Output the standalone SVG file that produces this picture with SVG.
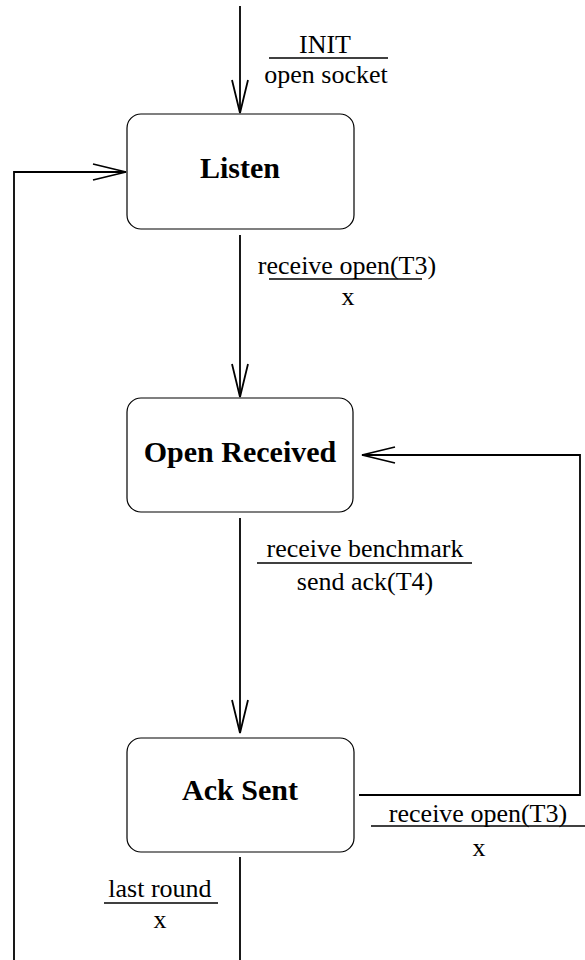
<svg xmlns="http://www.w3.org/2000/svg" width="585" height="960" viewBox="0 0 585 960">
<style>
.box{fill:#fff;stroke:#000;stroke-width:1.2}
.st{font-family:"Liberation Serif","Times New Roman",serif;font-weight:bold;font-size:30px;text-anchor:middle;fill:#000}
.lb{font-family:"Liberation Serif","Times New Roman",serif;font-size:26px;text-anchor:middle;fill:#000}
.ln{stroke:#000;stroke-width:1.8;fill:none}
.ul{stroke:#000;stroke-width:1.6}
</style>
<defs>
<marker id="arr" markerUnits="userSpaceOnUse" markerWidth="36" markerHeight="20" refX="34" refY="9" orient="auto">
<path d="M1,1 L34,9 L1,17" fill="none" stroke="#000" stroke-width="1.8"/>
</marker>
</defs>
<g id="connectors">
<line class="ln" x1="240" y1="6" x2="240" y2="113" marker-end="url(#arr)"/>
<polyline class="ln" points="14,960 14,172 126,172" marker-end="url(#arr)"/>
<line class="ln" x1="240" y1="235" x2="240" y2="397" marker-end="url(#arr)"/>
<line class="ln" x1="240" y1="518" x2="240" y2="733" marker-end="url(#arr)"/>
<polyline class="ln" points="359,795 580,795 580,455 362,455" marker-end="url(#arr)"/>
<line class="ln" x1="240" y1="857" x2="240" y2="960"/>
</g>
<g id="label-init">
<text class="lb" x="325" y="53">INIT</text>
<line class="ul" x1="269" y1="58" x2="388" y2="58"/>
<text class="lb" x="326" y="83">open socket</text>
</g>
<g id="label-recv-open-1">
<text class="lb" x="347" y="274">receive open(T3)</text>
<line class="ul" x1="269" y1="279" x2="422" y2="279"/>
<text class="lb" x="348" y="305">x</text>
</g>
<g id="label-recv-bench">
<text class="lb" x="365" y="557">receive benchmark</text>
<line class="ul" x1="257" y1="563" x2="472" y2="563"/>
<text class="lb" x="365" y="590">send ack(T4)</text>
</g>
<g id="label-recv-open-2">
<text class="lb" x="478" y="822">receive open(T3)</text>
<line class="ul" x1="371" y1="826" x2="585" y2="826"/>
<text class="lb" x="479" y="856">x</text>
</g>
<g id="label-last-round">
<text class="lb" x="160" y="897">last round</text>
<line class="ul" x1="104" y1="903" x2="218" y2="903"/>
<text class="lb" x="160" y="928">x</text>
</g>
<g id="listen">
<rect class="box" x="127" y="114" width="227" height="115" rx="14"/>
<text class="st" x="240" y="178">Listen</text>
</g>
<g id="open-received">
<rect class="box" x="127" y="398" width="226" height="114" rx="14"/>
<text class="st" x="240" y="462">Open Received</text>
</g>
<g id="ack-sent">
<rect class="box" x="127" y="738" width="227" height="114" rx="14"/>
<text class="st" x="240" y="800">Ack Sent</text>
</g>
</svg>
